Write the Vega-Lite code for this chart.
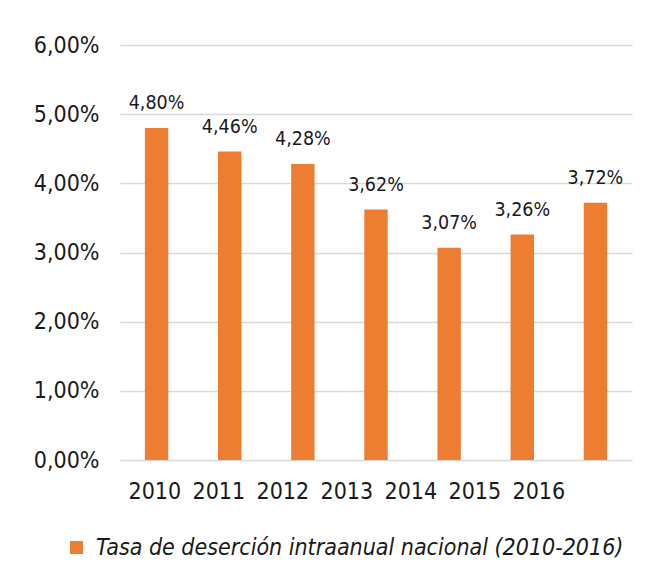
{
  "$schema": "https://vega.github.io/schema/vega-lite/v6.json",
  "width": 512,
  "height": 415,
  "autosize": {"type": "none"},
  "padding": {"left": 120, "top": 45, "right": 20, "bottom": 122},
  "background": "white",
  "config": {
    "view": {"stroke": null},
    "font": "DejaVu Sans Condensed",
    "locale": {
      "number": {"decimal": ",", "thousands": ".", "grouping": [3], "currency": ["", " €"]}
    }
  },
  "data": {
    "values": [
      {"year": "2010", "tasa": 0.0480, "serie": "Tasa de deserción intraanual nacional (2010-2016)"},
      {"year": "2011", "tasa": 0.0446, "serie": "Tasa de deserción intraanual nacional (2010-2016)"},
      {"year": "2012", "tasa": 0.0428, "serie": "Tasa de deserción intraanual nacional (2010-2016)"},
      {"year": "2013", "tasa": 0.0362, "serie": "Tasa de deserción intraanual nacional (2010-2016)"},
      {"year": "2014", "tasa": 0.0307, "serie": "Tasa de deserción intraanual nacional (2010-2016)"},
      {"year": "2015", "tasa": 0.0326, "serie": "Tasa de deserción intraanual nacional (2010-2016)"},
      {"year": "2016", "tasa": 0.0372, "serie": "Tasa de deserción intraanual nacional (2010-2016)"}
    ]
  },
  "layer": [
    {
      "encoding": {
        "x": {
          "field": "year",
          "type": "ordinal",
          "sort": null,
          "scale": {"type": "band", "paddingInner": 0.68, "paddingOuter": 0.34},
          "axis": null
        },
        "y": {
          "field": "tasa",
          "type": "quantitative",
          "scale": {"domain": [0, 0.06], "nice": false},
          "axis": {
            "title": null,
            "values": [0, 0.01, 0.02, 0.03, 0.04, 0.05, 0.06],
            "format": ".2%",
            "domain": false,
            "ticks": false,
            "grid": true,
            "gridColor": "#d9d9d9",
            "gridWidth": 1.5,
            "labelFontSize": 23,
            "labelColor": "#1a1a1a",
            "labelPadding": 21
          }
        }
      },
      "layer": [
        {
          "mark": {"type": "bar", "color": "#ED7D31"},
          "encoding": {
            "color": {
              "field": "serie",
              "type": "nominal",
              "scale": {"range": ["#ED7D31"]},
              "legend": {
                "title": null,
                "orient": "none",
                "legendX": -55,
                "legendY": 491,
                "symbolType": "square",
                "symbolSize": 169,
                "symbolStrokeWidth": 0,
                "labelFontSize": 23,
                "labelFontStyle": "italic",
                "labelColor": "#1a1a1a",
                "labelLimit": 700,
                "labelOffset": 8
              }
            }
          }
        },
        {
          "mark": {"type": "text", "baseline": "alphabetic", "dy": -19, "fontSize": 19.5, "color": "#1a1a1a"},
          "encoding": {
            "text": {"field": "tasa", "type": "quantitative", "format": ".2%"}
          }
        }
      ]
    },
    {
      "mark": {"type": "point", "opacity": 0},
      "encoding": {
        "x": {
          "field": "year",
          "type": "ordinal",
          "sort": null,
          "scale": {"type": "point", "padding": 1.149, "align": 0.268},
          "axis": {
            "title": null,
            "orient": "bottom",
            "domain": false,
            "ticks": false,
            "grid": false,
            "labelAngle": 0,
            "labelFontSize": 23,
            "labelColor": "#1a1a1a",
            "labelPadding": 20
          }
        }
      }
    }
  ],
  "resolve": {"scale": {"x": "independent", "color": "shared"}}
}
